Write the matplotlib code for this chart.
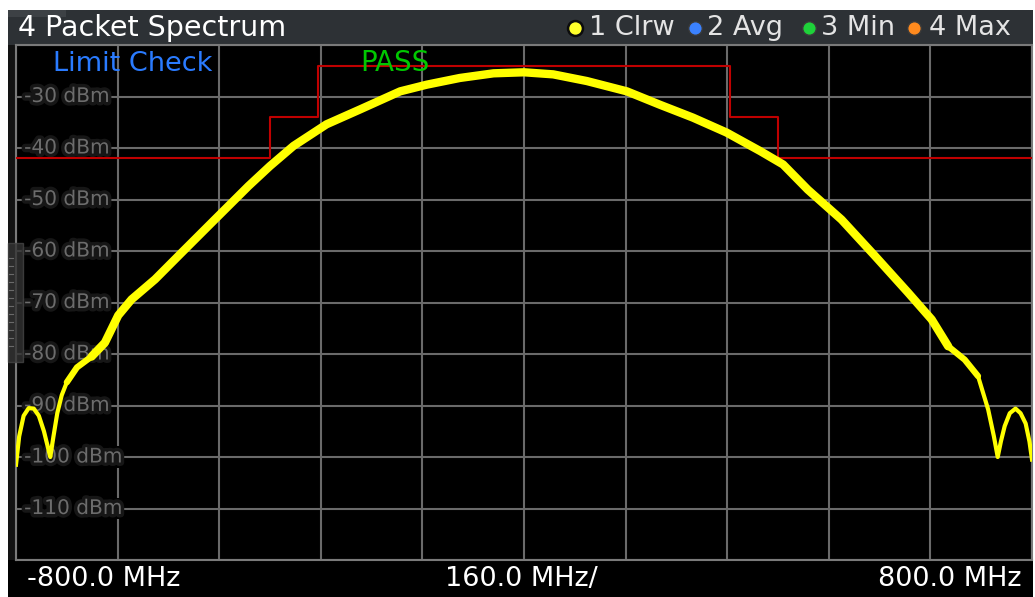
import matplotlib
matplotlib.use("Agg")
import matplotlib.pyplot as plt
import matplotlib.patheffects as pe
from matplotlib.patches import Rectangle
import numpy as np

# ---------------- data ----------------
freq_mhz = [-800, -795, -788, -780, -772, -764, -756, -750, -746, -741, -735, -728, -720,
            -704, -681, -660, -639, -618, -581, -539, -487, -434, -400, -363, -311,
            -258, -195, -153, -101, -48, 0, 46, 99, 162, 214, 266, 319, 372, 408,
            447, 500, 553, 605, 642, 668, 694, 715, 731, 740, 746, 751, 757, 765,
            774, 782, 790, 796, 800]
level_dbm = [-101.5, -96.0, -92.0, -90.5, -90.6, -92.0, -95.0, -98.0, -100.0, -96.0, -91.5, -88.0, -85.5,
             -82.6, -80.5, -77.8, -72.5, -69.4, -65.5, -60.3, -53.9, -47.4, -43.5, -39.6, -35.4,
             -32.5, -29.0, -27.7, -26.4, -25.5, -25.3, -25.7, -27.0, -29.0, -31.6, -34.1, -37.0, -40.6, -43.2,
             -48.1, -53.9, -61.0, -68.1, -73.3, -78.5, -81.1, -84.3, -90.8, -96.0, -100.0, -97.0, -94.0, -91.5,
             -90.6, -91.5, -93.5, -97.0, -100.5]

limit_edges_mhz = [-800, -400, -325, 325, 400, 800]
limit_levels_dbm = [-42, -34, -24, -34, -42, -42]

x_ticks_mhz = [-800, -640, -480, -320, -160, 0, 160, 320, 480, 640, 800]
y_ticks_dbm = [-120, -110, -100, -90, -80, -70, -60, -50, -40, -30, -20]
y_labels = ["-30 dBm", "-40 dBm", "-50 dBm", "-60 dBm", "-70 dBm",
            "-80 dBm", "-90 dBm", "-100 dBm", "-110 dBm"]
y_label_vals = [-30, -40, -50, -60, -70, -80, -90, -100, -110]

title = "4 Packet Spectrum"
legend_labels = ["1 Clrw", "2 Avg", "3 Min", "4 Max"]
legend_colors = ["#ffff2a", "#3b82ff", "#1ed23a", "#ff8a1e"]
x_left_label = "-800.0 MHz"
x_center_label = "160.0 MHz/"
x_right_label = "800.0 MHz"

# ---------------- figure ----------------
W, H = 1035, 597
fig = plt.figure(figsize=(W / 100, H / 100), dpi=100, facecolor="white")
font = "DejaVu Sans"

# overlay axes in pixel coordinates for the frame decorations
ov = fig.add_axes([0, 0, 1, 1], zorder=0)
ov.set_xlim(0, W)
ov.set_ylim(H, 0)
ov.axis("off")

ov.add_patch(Rectangle((8, 10), 1025, 35, facecolor="#2d3135", edgecolor="none"))
ov.add_patch(Rectangle((8, 10), 58, 7, facecolor="#3d4145", edgecolor="none"))
ov.add_patch(Rectangle((8, 45), 8, 552, facecolor="#121212", edgecolor="none"))
ov.add_patch(Rectangle((8, 560), 1025, 37, facecolor="black", edgecolor="none"))

ov.text(18, 28, title, color="white", fontsize=20.5, va="center", ha="left", family=font)

dot_x = [575, 695, 809, 914]
text_x = [589, 707, 821, 929]
for i, (dx, tx, lab, col) in enumerate(zip(dot_x, text_x, legend_labels, legend_colors)):
    ov.scatter([dx], [27.5], s=115 if i == 0 else 95, color=col,
               edgecolors="#0c0c0c" if i == 0 else "#3a3a3a",
               linewidths=1.8 if i == 0 else 1.0, zorder=5)
    ov.text(tx, 28, lab, color="#e4e4e4", fontsize=19.5, va="center", ha="left", family=font)

ov.text(27, 579, x_left_label, color="white", fontsize=19.5, va="center", ha="left", family=font)
ov.text(521, 579, x_center_label, color="white", fontsize=19.5, va="center", ha="center", family=font)
ov.text(1022, 579, x_right_label, color="white", fontsize=19.5, va="center", ha="right", family=font)

# ---------------- main plot ----------------
ax = fig.add_axes([16 / W, 1 - 560 / H, 1016 / W, 515 / H], zorder=1)
ax.set_facecolor("black")
ax.set_xlim(-800, 800)
ax.set_ylim(-120, -20)
ax.set_xticks(x_ticks_mhz)
ax.set_yticks(y_ticks_dbm)
ax.tick_params(length=0, labelleft=False, labelbottom=False)
ax.grid(True, color="#6a6a6a", linewidth=1.5)
ax.set_axisbelow(True)
for s in ax.spines.values():
    s.set_color("#7a7a7a")
    s.set_linewidth(1.5)

trans = matplotlib.transforms.blended_transform_factory(ax.transAxes, ax.transData)
for v, lab in zip(y_label_vals, y_labels):
    ax.text(0.008, v, lab, transform=trans, color="#6c6c6c", fontsize=14.5,
            va="center", ha="left", family=font, zorder=2,
            bbox=dict(facecolor="black", edgecolor="none", pad=1.0),
            path_effects=[pe.withStroke(linewidth=5, foreground="#161616")])

# limit line
ax.step(limit_edges_mhz, limit_levels_dbm, where="post", color="#c00000",
        linewidth=1.5, zorder=3)

# trace (thicker where the noise band is wider)
f = np.array(freq_mhz)
lv = np.array(level_dbm)
ax.plot(f, lv, color="#ffff00", linewidth=3.0, zorder=4, solid_joinstyle="round")
m1 = np.abs(f) <= 722
ax.plot(f[m1], lv[m1], color="#ffff00", linewidth=4.5, zorder=4,
        solid_capstyle="round", solid_joinstyle="round")
m2 = np.abs(f) <= 682
ax.plot(f[m2], lv[m2], color="#ffff00", linewidth=6.0, zorder=4,
        solid_capstyle="round", solid_joinstyle="round")

# top overlay
ov2 = fig.add_axes([0, 0, 1, 1], zorder=3)
ov2.set_xlim(0, W)
ov2.set_ylim(H, 0)
ov2.axis("off")

# left scrollbar element
ov2.add_patch(Rectangle((8, 243), 15, 119, facecolor="#333333", edgecolor="#454545",
                        linewidth=1, alpha=0.8))
for yy in range(258, 350, 8):
    ov2.plot([9, 13], [yy, yy], color="#6a6a6a", linewidth=0.8)

ov2.text(53, 64, "Limit Check", color="#2a7bff", fontsize=19.5, va="center",
         ha="left", family=font)
ov2.text(360, 63, "PASS", color="#00c800", fontsize=20, va="center",
         ha="left", family=font)

fig.savefig("out.png", dpi=100, facecolor="white")
